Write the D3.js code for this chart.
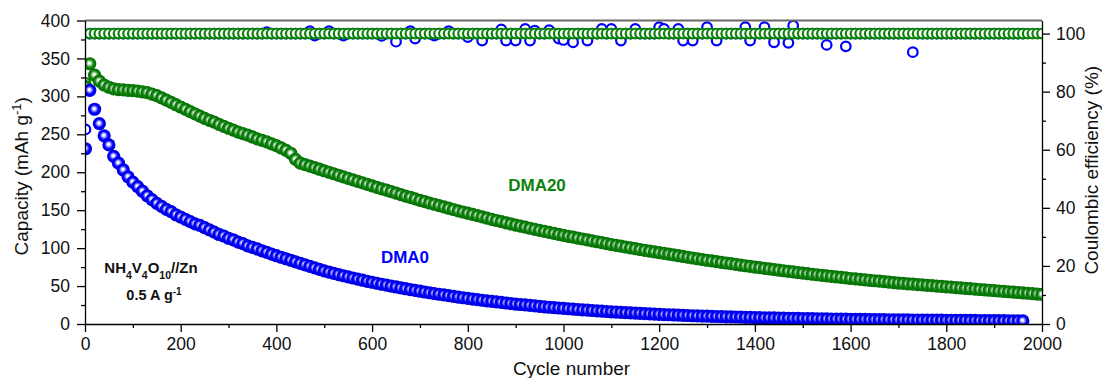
<!DOCTYPE html>
<html>
<head>
<meta charset="utf-8">
<script src="https://cdn.jsdelivr.net/npm/d3@7"></script>
<style>
  html, body { margin: 0; padding: 0; background: #fff; }
  svg { display: block; font-family: "Liberation Sans", Arial, Helvetica, sans-serif; }
</style>
</head>
<body>
<svg id="chart" width="1102" height="378"></svg>
<script>
// ---- Data -------------------------------------------------------------
// Cycle numbers at which points were recorded
const cycles = [
  1,
  10, 20, 30, 40, 50, 60, 70, 80, 90, 100,
  110, 120, 130, 140, 150, 160, 170, 180, 190, 200,
  210, 220, 230, 240, 250, 260, 270, 280, 290, 300,
  310, 320, 330, 340, 350, 360, 370, 380, 390, 400,
  410, 420, 430, 440, 450, 460, 470, 480, 490, 500,
  510, 520, 530, 540, 550, 560, 570, 580, 590, 600,
  610, 620, 630, 640, 650, 660, 670, 680, 690, 700,
  710, 720, 730, 740, 750, 760, 770, 780, 790, 800,
  810, 820, 830, 840, 850, 860, 870, 880, 890, 900,
  910, 920, 930, 940, 950, 960, 970, 980, 990, 1000,
  1010, 1020, 1030, 1040, 1050, 1060, 1070, 1080, 1090, 1100,
  1110, 1120, 1130, 1140, 1150, 1160, 1170, 1180, 1190, 1200,
  1210, 1220, 1230, 1240, 1250, 1260, 1270, 1280, 1290, 1300,
  1310, 1320, 1330, 1340, 1350, 1360, 1370, 1380, 1390, 1400,
  1410, 1420, 1430, 1440, 1450, 1460, 1470, 1480, 1490, 1500,
  1510, 1520, 1530, 1540, 1550, 1560, 1570, 1580, 1590, 1600,
  1610, 1620, 1630, 1640, 1650, 1660, 1670, 1680, 1690, 1700,
  1710, 1720, 1730, 1740, 1750, 1760, 1770, 1780, 1790, 1800,
  1810, 1820, 1830, 1840, 1850, 1860, 1870, 1880, 1890, 1900,
  1910, 1920, 1930, 1940, 1950, 1960, 1970, 1980, 1990, 2000
];

// Discharge capacity, mAh/g (DMA0 cell stops at cycle 1960)
const capDMA0 = [
  231,
  308, 283, 264, 248, 236, 221, 212, 203, 194, 187,
  181, 175, 169, 164, 159, 155, 151, 148, 144, 141,
  138, 135, 132, 130, 127, 124, 121, 118, 116, 113,
  111, 108, 106, 103, 101, 99, 96.5, 94.5, 92, 90,
  88, 86, 84, 82, 80, 78, 76, 74, 72, 70,
  68.3, 66.7, 65.1, 63.6, 62.1, 60.6, 59.1, 57.7, 56.3, 55,
  53.7, 52.4, 51.2, 50, 48.8, 47.6, 46.5, 45.4, 44.3, 43.2,
  42.2, 41.2, 40.2, 39.2, 38.3, 37.3, 36.4, 35.5, 34.6, 33.7,
  32.9, 32.1, 31.3, 30.5, 29.8, 29.1, 28.4, 27.7, 27, 26.3,
  25.7, 25.1, 24.5, 23.9, 23.3, 22.7, 22.1, 21.6, 21.1, 20.6,
  20.1, 19.6, 19.1, 18.6, 18.2, 17.8, 17.3, 16.9, 16.5, 16.1,
  15.7, 15.3, 15, 14.6, 14.3, 14, 13.6, 13.3, 13, 12.7,
  12.4, 12.2, 11.9, 11.6, 11.4, 11.2, 10.9, 10.7, 10.5, 10.3,
  10.1, 9.9, 9.7, 9.5, 9.3, 9.2, 9, 8.8, 8.7, 8.5,
  8.4, 8.2, 8.1, 8, 7.8, 7.7, 7.6, 7.5, 7.3, 7.2,
  7.1, 7, 6.9, 6.8, 6.7, 6.6, 6.5, 6.4, 6.3, 6.2,
  6.1, 6.05, 6, 5.9, 5.8, 5.75, 5.7, 5.6, 5.55, 5.5,
  5.4, 5.35, 5.3, 5.25, 5.2, 5.15, 5.1, 5.05, 5, 4.95,
  4.9, 4.85, 4.8, 4.75, 4.7, 4.65, 4.6, 4.55, 4.5, 4.45,
  4.4, 4.35, 4.3, 4.25, 4.2, 4.15
];

const capDMA20 = [
  313,
  343, 328, 320, 315, 312, 310, 309, 308.5, 308, 307.5,
  307, 306, 305, 303, 301, 298, 295, 292, 289, 286,
  283, 280, 277, 274, 271, 268.5, 266, 263, 260.5, 258,
  255.5, 253, 251, 249, 246.5, 244, 242, 240, 237.5, 235,
  232, 229, 225, 217, 212, 210, 208, 206, 204, 202,
  200, 198, 196, 194, 192, 190, 188, 186, 184, 182,
  180, 178, 176.5, 174.5, 172.5, 170.5, 168.5, 167, 165, 163,
  161.3, 159.5, 157.8, 156, 154.3, 152.6, 150.9, 149.2, 147.6, 146,
  144.4, 142.8, 141.2, 139.6, 138, 136.4, 134.9, 133.4, 131.9, 130.4,
  129, 127.6, 126.2, 124.8, 123.4, 122, 120.7, 119.4, 118.1, 116.8,
  115.6, 114.4, 113.2, 112, 110.8, 109.6, 108.4, 107.2, 106, 104.8,
  103.7, 102.6, 101.5, 100.4, 99.3, 98.2, 97.1, 96, 95, 94,
  93, 92, 91, 90, 89, 88, 87, 86, 85, 84,
  83.1, 82.2, 81.3, 80.4, 79.5, 78.6, 77.7, 76.8, 75.9, 75,
  74.2, 73.4, 72.6, 71.8, 71, 70.2, 69.4, 68.6, 67.8, 67,
  66.3, 65.6, 64.9, 64.2, 63.5, 62.8, 62.1, 61.4, 60.7, 60,
  59.4, 58.8, 58.2, 57.6, 57, 56.4, 55.8, 55.2, 54.6, 54,
  53.5, 53, 52.5, 52, 51.5, 51, 50.5, 50, 49.5, 49,
  48.5, 48, 47.5, 47, 46.5, 46, 45.5, 45, 44.5, 44,
  43.5, 43, 42.5, 42, 41.5, 41, 40.5, 40, 39.5, 39
];

// Coulombic efficiency, %
const ceDMA0 = [
  67,
  100, 100, 100, 100, 100, 100, 100, 100, 100, 100,
  100, 100, 100, 100, 100, 100, 100, 100, 100, 100,
  100, 100, 100, 100, 100, 100, 100, 100, 100, 100,
  100, 100, 100, 100, 100, 100, 100, 100.5, 100, 100,
  100, 100, 100, 100, 100, 100, 100.8, 99.3, 100, 100,
  100.8, 100, 100, 99.3, 100, 100, 100, 100, 100, 100,
  100, 99.2, 100, 100, 97.2, 100, 100, 100.8, 98.3, 100,
  100, 100, 99.3, 100, 100, 100.8, 100, 100, 100, 98.8,
  100, 100, 97.6, 100, 100, 100, 101.4, 97.6, 100, 97.6,
  100, 101.6, 97.6, 101, 100, 100, 101.2, 100, 98.3, 97.8,
  100, 97, 100, 100, 97.6, 100, 100, 101.6, 100, 101.6,
  100, 97.6, 100, 100, 101.6, 100, 100, 100, 100, 102.2,
  101.6, 100, 100, 101.6, 97.6, 100, 97.6, 100, 100, 102.2,
  100, 97.6, 100, 100, 100, 100, 100, 102.2, 97.6, 100,
  100, 102.2, 100, 97, 100, 100, 96.8, 102.7, 100, 100,
  100, 100, 100, 100, 96.1, 100, 100, 100, 95.6, 100,
  100, 100, 100, 100, 100, 100, 100, 100, 100, 100,
  100, 100, 93.6, 100, 100, 100, 100, 100, 100, 100,
  100, 100, 100, 100, 100, 100, 100, 100, 100, 100,
  100, 100, 100, 100, 100, 100
];

const ceDMA20 = [
  83,
  100, 100, 100, 100, 100, 100, 100, 100, 100, 100,
  100, 100, 100, 100, 100, 100, 100, 100, 100, 100,
  100, 100, 100, 100, 100, 100, 100, 100, 100, 100,
  100, 100, 100, 100, 100, 100, 100, 100, 100, 100,
  100, 100, 100, 100, 100, 100, 100, 100, 100, 100,
  100, 100, 100, 100, 100, 100, 100, 100, 100, 100,
  100, 100, 100, 100, 100, 100, 100, 100, 100, 100,
  100, 100, 100, 100, 100, 100, 100, 100, 100, 100,
  100, 100, 100, 100, 100, 100, 100, 100, 100, 100,
  100, 100, 100, 100, 100, 100, 100, 100, 100, 100,
  100, 100, 100, 100, 100, 100, 100, 100, 100, 100,
  100, 100, 100, 100, 100, 100, 100, 100, 100, 100,
  100, 100, 100, 100, 100, 100, 100, 100, 100, 100,
  100, 100, 100, 100, 100, 100, 100, 100, 100, 100,
  100, 100, 100, 100, 100, 100, 100, 100, 100, 100,
  100, 100, 100, 100, 100, 100, 100, 100, 100, 100,
  100, 100, 100, 100, 100, 100, 100, 100, 100, 100,
  100, 100, 100, 100, 100, 100, 100, 100, 100, 100,
  100, 100, 100, 100, 100, 100, 100, 100, 100, 100,
  100, 100, 100, 100, 100, 100, 100, 100, 100, 100
];

// Axis ticks
const cycleTicks = [0, 200, 400, 600, 800, 1000, 1200, 1400, 1600, 1800, 2000];
const cycleMinor = [100, 300, 500, 700, 900, 1100, 1300, 1500, 1700, 1900];
const capTicks = [0, 50, 100, 150, 200, 250, 300, 350, 400];
const capMinor = [25, 75, 125, 175, 225, 275, 325, 375];
const ceTicks = [0, 20, 40, 60, 80, 100];
const ceMinor = [10, 30, 50, 70, 90];

// ---- Layout & scales --------------------------------------------------
const plot = { left: 85, right: 1042, top: 20.5, bottom: 324 };
const BLUE = "#0000ff", GREEN = "#0b830b";

const x = d3.scaleLinear().domain([0, 2000]).range([plot.left, plot.right]);
const yCap = d3.scaleLinear().domain([0, 400]).range([plot.bottom, plot.top]);
const yCE = d3.scaleLinear().domain([0, 104.5]).range([plot.bottom, plot.top]);

const svg = d3.select("#chart");
const defs = svg.append("defs");

defs.append("clipPath").attr("id", "plotClip")
  .append("rect")
  .attr("x", plot.left).attr("y", plot.top)
  .attr("width", plot.right - plot.left)
  .attr("height", plot.bottom - plot.top);

// Glossy sphere fills for the capacity symbols
function sphere(id, stops) {
  const g = defs.append("radialGradient").attr("id", id)
    .attr("cx", "50%").attr("cy", "50%").attr("r", "50%")
    .attr("fx", "46%").attr("fy", "44%");
  stops.forEach(([o, c]) => g.append("stop").attr("offset", o).attr("stop-color", c));
}
sphere("ballBlue", [[0, "#ffffff"], [0.14, "#ffffff"], [0.36, "#8d8dff"], [0.62, "#0000ff"], [1, "#0000d8"]]);
sphere("ballGreen", [[0, "#ffffff"], [0.14, "#ffffff"], [0.36, "#93c993"], [0.62, "#0b850b"], [1, "#066c06"]]);

// ---- Marks ------------------------------------------------------------
const marks = svg.append("g").attr("clip-path", "url(#plotClip)");

function series(values) {
  return values.map((v, i) => ({ c: cycles[i], v }));
}

// Coulombic efficiency: open circles (DMA0 underneath DMA20)
marks.append("g").selectAll("circle")
  .data(series(ceDMA0)).join("circle")
  .attr("cx", d => x(d.c)).attr("cy", d => yCE(d.v)).attr("r", 4.8)
  .attr("fill", "#fff").attr("stroke", BLUE).attr("stroke-width", 2.2);

marks.append("g").selectAll("circle")
  .data(series(ceDMA20)).join("circle")
  .attr("cx", d => x(d.c)).attr("cy", d => yCE(d.v)).attr("r", 4.8)
  .attr("fill", "#fff").attr("stroke", GREEN).attr("stroke-width", 2.2);

// Capacity: filled spheres
marks.append("g").selectAll("circle")
  .data(series(capDMA20)).join("circle")
  .attr("cx", d => x(d.c)).attr("cy", d => yCap(d.v)).attr("r", 6.6)
  .attr("fill", "url(#ballGreen)");

marks.append("g").selectAll("circle")
  .data(series(capDMA0)).join("circle")
  .attr("cx", d => x(d.c)).attr("cy", d => yCap(d.v)).attr("r", 6.6)
  .attr("fill", "url(#ballBlue)");

// ---- Axes -------------------------------------------------------------
const tickFont = "17.5px";

function styleAxis(g) {
  g.select(".domain").attr("stroke", "#000").attr("stroke-width", 1.3);
  g.selectAll(".tick line").attr("stroke", "#000").attr("stroke-width", 1.3);
  g.selectAll(".tick text").attr("fill", "#111").style("font-size", tickFont)
    .style("font-family", '"Liberation Sans", Arial, sans-serif');
}

// top frame line
svg.append("line")
  .attr("x1", plot.left).attr("x2", plot.right)
  .attr("y1", plot.top).attr("y2", plot.top)
  .attr("stroke", "#6a6a6a").attr("stroke-width", 2);

// bottom
svg.append("g").attr("transform", `translate(0,${plot.bottom})`)
  .call(d3.axisBottom(x).tickValues(cycleMinor).tickSize(4).tickFormat(""))
  .call(g => g.select(".domain").remove())
  .call(styleAxis);
svg.append("g").attr("transform", `translate(0,${plot.bottom})`)
  .call(d3.axisBottom(x).tickValues(cycleTicks).tickSize(8).tickSizeOuter(0).tickPadding(6).tickFormat(d3.format("d")))
  .call(styleAxis);

// left
svg.append("g").attr("transform", `translate(${plot.left},0)`)
  .call(d3.axisLeft(yCap).tickValues(capMinor).tickSize(4).tickFormat(""))
  .call(g => g.select(".domain").remove())
  .call(styleAxis);
svg.append("g").attr("transform", `translate(${plot.left},0)`)
  .call(d3.axisLeft(yCap).tickValues(capTicks).tickSize(8).tickSizeOuter(0).tickPadding(7))
  .call(styleAxis);

// right
svg.append("g").attr("transform", `translate(${plot.right},0)`)
  .call(d3.axisRight(yCE).tickValues(ceMinor).tickSize(4).tickFormat(""))
  .call(g => g.select(".domain").remove())
  .call(styleAxis);
svg.append("g").attr("transform", `translate(${plot.right},0)`)
  .call(d3.axisRight(yCE).tickValues(ceTicks).tickSize(8).tickSizeOuter(0).tickPadding(6))
  .call(styleAxis);

// ---- Axis titles ------------------------------------------------------
const titleSize = 19;

const yTitle = svg.append("text")
  .attr("transform", `translate(28,${(plot.top + plot.bottom) / 2 + 4}) rotate(-90)`)
  .attr("text-anchor", "middle").attr("fill", "#111")
  .style("font-size", titleSize + "px");
yTitle.append("tspan").text("Capacity (mAh g");
yTitle.append("tspan").attr("baseline-shift", "super").style("font-size", "13px").text("-1");
yTitle.append("tspan").text(")");

svg.append("text")
  .attr("transform", `translate(1098,${(plot.top + plot.bottom) / 2 - 2}) rotate(-90)`)
  .attr("text-anchor", "middle").attr("fill", "#111")
  .style("font-size", titleSize + "px")
  .text("Coulombic efficiency (%)");

svg.append("text")
  .attr("x", (plot.left + plot.right) / 2 + 8).attr("y", 375)
  .attr("text-anchor", "middle").attr("fill", "#111")
  .style("font-size", titleSize + "px")
  .text("Cycle number");

// ---- Annotations ------------------------------------------------------
const cell = svg.append("text")
  .attr("x", 151).attr("y", 273).attr("text-anchor", "middle")
  .attr("fill", "#111").style("font-size", "15px").style("font-weight", "bold");
[["NH", null], ["4", "sub"], ["V", null], ["4", "sub"], ["O", null], ["10", "sub"], ["//Zn", null]]
  .forEach(([t, s]) => {
    const ts = cell.append("tspan").text(t);
    if (s) ts.attr("baseline-shift", "sub").style("font-size", "10.5px");
  });

const rate = svg.append("text")
  .attr("x", 154).attr("y", 300).attr("text-anchor", "middle")
  .attr("fill", "#111").style("font-size", "14.5px").style("font-weight", "bold");
rate.append("tspan").text("0.5 A g");
rate.append("tspan").attr("baseline-shift", "super").style("font-size", "10px").text("-1");

svg.append("text")
  .attr("x", 405).attr("y", 263).attr("text-anchor", "middle")
  .attr("fill", BLUE).style("font-size", "17px").style("font-weight", "bold")
  .text("DMA0");

svg.append("text")
  .attr("x", 537).attr("y", 191).attr("text-anchor", "middle")
  .attr("fill", GREEN).style("font-size", "17px").style("font-weight", "bold")
  .text("DMA20");
</script>
</body>
</html>
